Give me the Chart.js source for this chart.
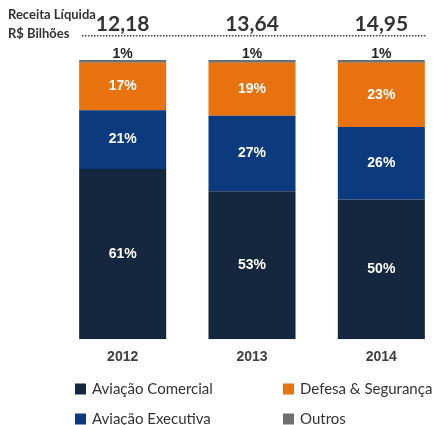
<!DOCTYPE html>
<html><head><meta charset="utf-8">
<script src="https://cdn.jsdelivr.net/npm/chart.js@4.4.0/dist/chart.umd.min.js"></script>
<style>
html,body{margin:0;padding:0;background:#fff;overflow:hidden;}
#wrap{position:relative;width:460px;height:425px;}
</style></head>
<body>
<div id="wrap"><canvas id="c" width="460" height="425"></canvas></div>
<script>
const categories = ['2012', '2013', '2014'];
const totals = ['12,18', '13,64', '14,95'];
const comercial = [61, 53, 50];
const executiva = [21, 27, 26];
const defesa = [17, 19, 23];
const outros = [1, 1, 1];
const seriesNames = ['Aviação Comercial', 'Aviação Executiva', 'Defesa & Segurança', 'Outros'];
const colors = ['#15273F', '#0B3B7E', '#E8720E', '#6E6E6E'];
const headerLines = ['Receita Líquida', 'R$ Bilhões'];

const labelPlugin = {
  id: 'labels',
  afterDatasetsDraw(chart) {
    const ctx = chart.ctx;
    ctx.save();
    ctx.textAlign = 'center';
    ctx.textBaseline = 'middle';
    chart.data.datasets.forEach((ds, di) => {
      const meta = chart.getDatasetMeta(di);
      meta.data.forEach((bar, i) => {
        const v = ds.data[i];
        if (di === 3) {
          ctx.fillStyle = '#222';
          ctx.font = 'bold 14px "Liberation Sans", Arial, sans-serif';
          ctx.fillText(v + '%', bar.x, bar.y - 6);
        } else {
          ctx.fillStyle = '#ffffff';
          ctx.font = 'bold 14px "Liberation Sans", Arial, sans-serif';
          ctx.fillText(v + '%', bar.x, (bar.y + bar.base) / 2);
        }
      });
    });
    // header
    ctx.fillStyle = '#333';
    ctx.textAlign = 'left';
    ctx.textBaseline = 'alphabetic';
    ctx.font = 'bold 13px Lato, "Open Sans", sans-serif';
    ctx.fillText(headerLines[0], 8, 19);
    ctx.fillText(headerLines[1], 8, 38);
    // totals
    const xs = chart.scales.x;
    ctx.textAlign = 'center';
    ctx.font = 'bold 21px Lato, sans-serif';
    totals.forEach((t, i) => {
      ctx.fillText(t, xs.getPixelForValue(i), 31);
    });
    // dotted line
    ctx.fillStyle = '#444';
    for (let x = 82; x <= 424; x += 3) {
      ctx.fillRect(x, 35, 1.5, 1.5);
    }
    // legend
    ctx.textAlign = 'left';
    ctx.textBaseline = 'middle';
    ctx.font = '15px Lato, "Open Sans", sans-serif';
    const legendPos = [[75, 389], [75, 419], [283, 389], [283, 419]];
    chart.data.datasets.forEach((ds, di) => {
      const [lx, ly] = legendPos[di];
      ctx.fillStyle = ds.backgroundColor;
      ctx.fillRect(lx, ly - 5.5, 11, 11);
      ctx.fillStyle = '#333';
      ctx.fillText(ds.label, lx + 17, ly);
    });
    ctx.restore();
  }
};

const datasetsData = [comercial, executiva, defesa, outros];
new Chart(document.getElementById('c'), {
  type: 'bar',
  data: {
    labels: categories,
    datasets: datasetsData.map((d, i) => ({
      label: seriesNames[i],
      data: d,
      backgroundColor: colors[i],
      borderWidth: 0,
      categoryPercentage: 1,
      barPercentage: 0.673
    }))
  },
  options: {
    responsive: false,
    animation: false,
    layout: { padding: { left: 58, right: 14, top: 60, bottom: 49 } },
    plugins: { legend: { display: false }, tooltip: { enabled: false } },
    scales: {
      x: {
        stacked: true,
        grid: { display: false, drawTicks: false },
        border: { display: false },
        ticks: { color: '#404040', padding: 10, font: { family: '"Liberation Sans", Arial, sans-serif', size: 14, weight: 'bold' } }
      },
      y: {
        stacked: true,
        display: false,
        min: 0,
        max: 100
      }
    }
  },
  plugins: [labelPlugin]
});
</script>
</body></html>
